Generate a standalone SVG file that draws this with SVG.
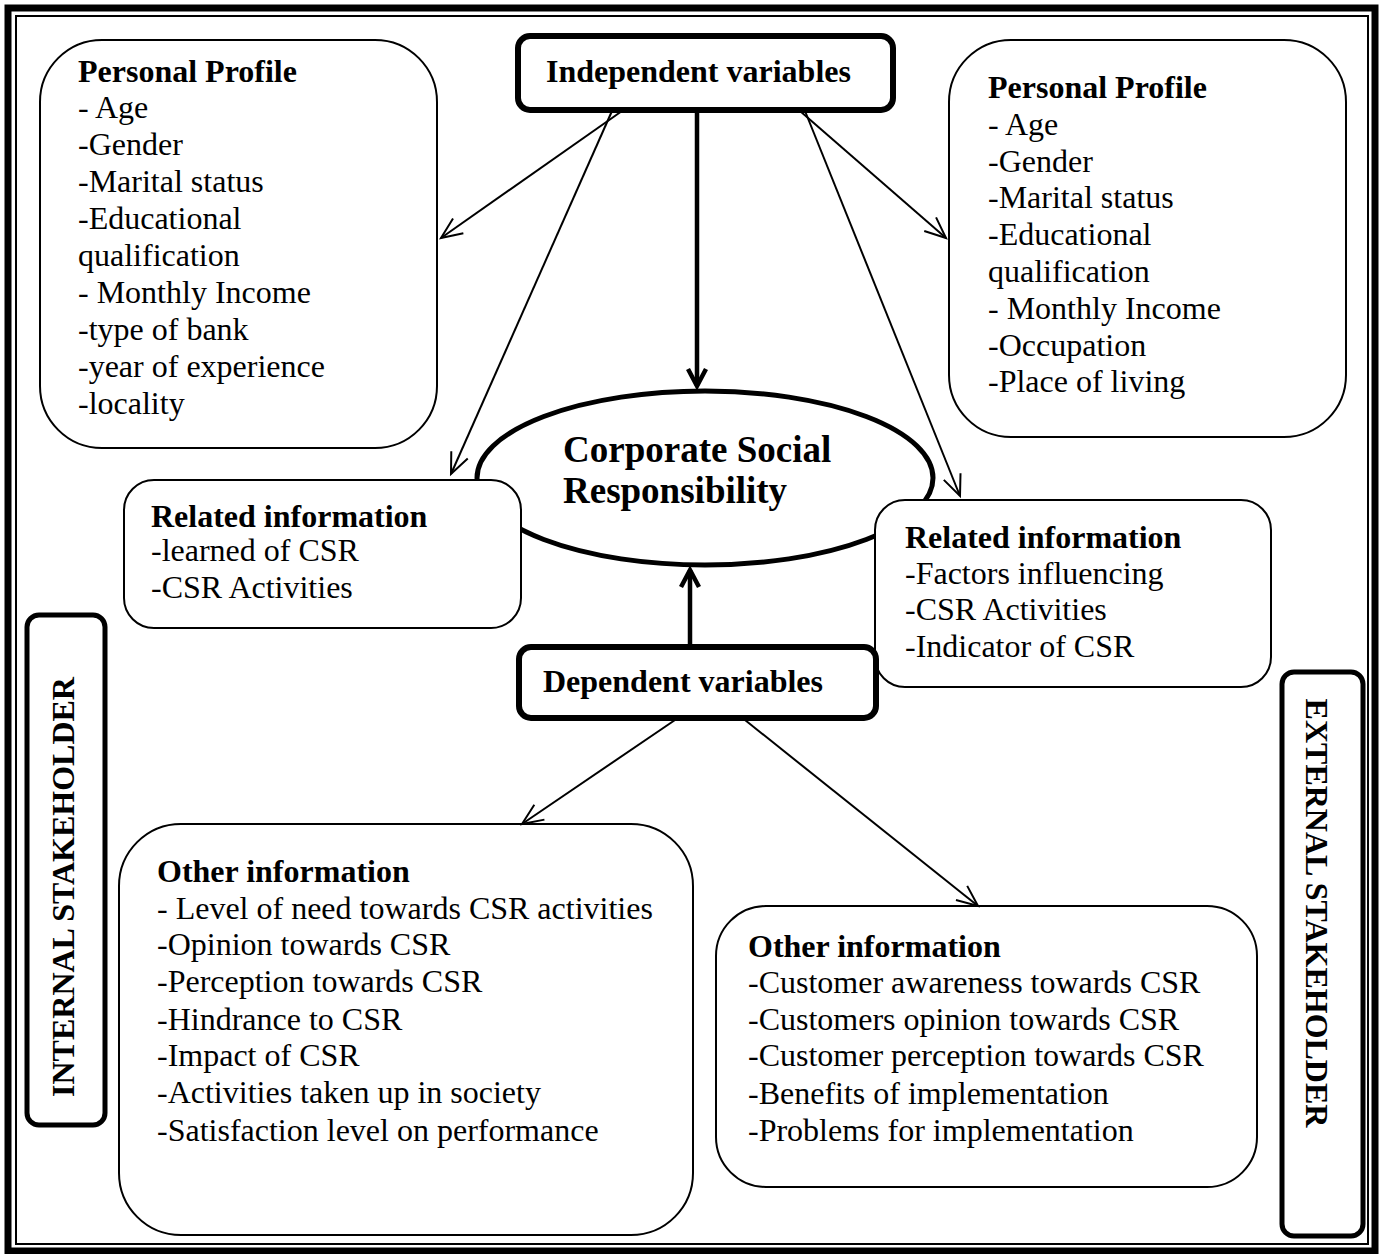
<svg xmlns="http://www.w3.org/2000/svg" width="1380" height="1254" viewBox="0 0 1380 1254">
<style>
text{font-family:"Liberation Serif","Times New Roman",serif;fill:#000}
.t{font-size:32px}
.b{font-weight:bold}
.box{fill:#fff;stroke:#000;stroke-width:2}
.thk{fill:#fff;stroke:#000;stroke-width:6}
.c{fill:none;stroke:#000;stroke-width:2}
.ct{fill:none;stroke:#000;stroke-width:4.5}
</style>
<defs>
<marker id="a" markerUnits="userSpaceOnUse" markerWidth="30" markerHeight="30" refX="22" refY="10" orient="auto" overflow="visible"><path d="M1,1 L22,10 L1,19" fill="none" stroke="#000" stroke-width="2"/></marker>
<marker id="b" markerUnits="userSpaceOnUse" markerWidth="30" markerHeight="30" refX="20" refY="10" orient="auto" overflow="visible"><path d="M3,1 L20,10 L3,19" fill="none" stroke="#000" stroke-width="4.5"/></marker>
</defs>
<rect width="1380" height="1254" fill="#fff"/>
<rect x="8" y="8" width="1367" height="1243" fill="none" stroke="#000" stroke-width="7"/>
<rect x="16" y="16" width="1352" height="1228" fill="none" stroke="#000" stroke-width="2"/>

<g id="csr">
<ellipse cx="705" cy="478" rx="228" ry="87" fill="#fff" stroke="#000" stroke-width="5"/>
<text class="b" font-size="37" x="563" y="462">Corporate Social</text>
<text class="b" font-size="37" x="563" y="503">Responsibility</text>
</g>

<g id="pp-left">
<rect class="box" x="40" y="40" width="397" height="408" rx="62"/>
<text class="t b" x="78" y="82">Personal Profile</text>
<text class="t" x="78" y="118">- Age</text>
<text class="t" x="78" y="155">-Gender</text>
<text class="t" x="78" y="192">-Marital status</text>
<text class="t" x="78" y="229">-Educational</text>
<text class="t" x="78" y="266">qualification</text>
<text class="t" x="78" y="303">- Monthly Income</text>
<text class="t" x="78" y="340">-type of bank</text>
<text class="t" x="78" y="377">-year of experience</text>
<text class="t" x="78" y="414">-locality</text>
</g>

<g id="independent">
<rect class="thk" x="518" y="36" width="375" height="74" rx="12"/>
<text class="t b" x="546" y="82">Independent variables</text>
</g>

<g id="pp-right">
<rect class="box" x="949" y="40" width="397" height="397" rx="62"/>
<text class="t b" x="988" y="98">Personal Profile</text>
<text class="t" x="988" y="135">- Age</text>
<text class="t" x="988" y="172">-Gender</text>
<text class="t" x="988" y="208">-Marital status</text>
<text class="t" x="988" y="245">-Educational</text>
<text class="t" x="988" y="282">qualification</text>
<text class="t" x="988" y="319">- Monthly Income</text>
<text class="t" x="988" y="356">-Occupation</text>
<text class="t" x="988" y="392">-Place of living</text>
</g>

<g id="related-left">
<rect class="box" x="124" y="480" width="397" height="148" rx="30"/>
<text class="t b" x="151" y="527">Related information</text>
<text class="t" x="151" y="561">-learned of CSR</text>
<text class="t" x="151" y="598">-CSR Activities</text>
</g>

<g id="related-right">
<rect class="box" x="875" y="500" width="396" height="187" rx="30"/>
<text class="t b" x="905" y="548">Related information</text>
<text class="t" x="905" y="584">-Factors influencing</text>
<text class="t" x="905" y="620">-CSR Activities</text>
<text class="t" x="905" y="657">-Indicator of CSR</text>
</g>

<g id="dependent">
<rect class="thk" x="519" y="647" width="357" height="71" rx="12"/>
<text class="t b" x="543" y="692">Dependent variables</text>
</g>

<g id="other-left">
<rect class="box" x="119" y="824" width="574" height="411" rx="62"/>
<text class="t b" x="157" y="882">Other information</text>
<text class="t" x="157" y="919">- Level of need towards CSR activities</text>
<text class="t" x="157" y="955">-Opinion towards CSR</text>
<text class="t" x="157" y="992">-Perception towards CSR</text>
<text class="t" x="157" y="1030">-Hindrance to CSR</text>
<text class="t" x="157" y="1066">-Impact of CSR</text>
<text class="t" x="157" y="1103">-Activities taken up in society</text>
<text class="t" x="157" y="1141">-Satisfaction level on performance</text>
</g>

<g id="other-right">
<rect class="box" x="716" y="906" width="541" height="281" rx="50"/>
<text class="t b" x="748" y="957">Other information</text>
<text class="t" x="748" y="993">-Customer awareness towards CSR</text>
<text class="t" x="748" y="1030">-Customers opinion towards CSR</text>
<text class="t" x="748" y="1066">-Customer perception towards CSR</text>
<text class="t" x="748" y="1104">-Benefits of implementation</text>
<text class="t" x="748" y="1141">-Problems for implementation</text>
</g>

<g id="internal">
<rect x="27" y="615" width="78" height="510" rx="12" fill="#fff" stroke="#000" stroke-width="5"/>
<text class="t b" text-anchor="middle" transform="translate(74,887) rotate(-90)">INTERNAL STAKEHOLDER</text>
</g>

<g id="external">
<rect x="1282" y="672" width="81" height="564" rx="12" fill="#fff" stroke="#000" stroke-width="5"/>
<text class="t b" text-anchor="middle" transform="translate(1306,913) rotate(90)">EXTERNAL STAKEHOLDER</text>
</g>

<g id="connectors">
<line class="c" x1="622" y1="111" x2="441" y2="238" marker-end="url(#a)"/>
<line class="c" x1="612" y1="111" x2="451" y2="474" marker-end="url(#a)"/>
<line class="c" x1="800" y1="111" x2="946" y2="238" marker-end="url(#a)"/>
<line class="c" x1="805" y1="111" x2="960" y2="496" marker-end="url(#a)"/>
<line class="ct" x1="697" y1="111" x2="697" y2="386" marker-end="url(#b)"/>
<line class="ct" x1="690" y1="646" x2="690" y2="570" marker-end="url(#b)"/>
<line class="c" x1="675" y1="720" x2="522" y2="824" marker-end="url(#a)"/>
<line class="c" x1="745" y1="720" x2="978" y2="906" marker-end="url(#a)"/>
</g>
</svg>
